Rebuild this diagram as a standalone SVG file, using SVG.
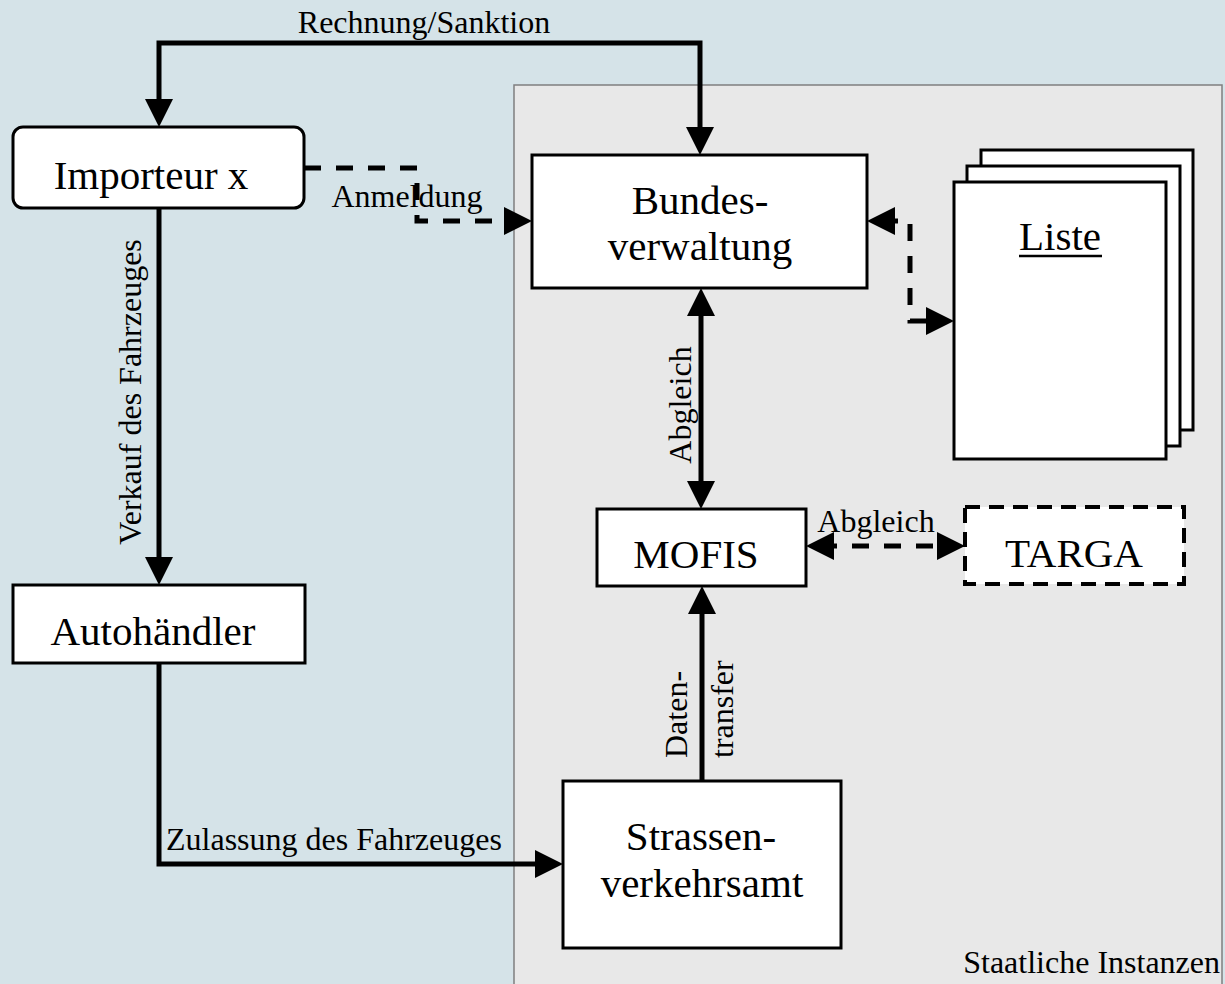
<svg xmlns="http://www.w3.org/2000/svg" width="1225" height="984" viewBox="0 0 1225 984">
<style>
.box{fill:#ffffff;stroke:#000000;stroke-width:3}
.big{font-family:"Liberation Serif","Times New Roman",serif;font-size:41px;fill:#000000;text-anchor:middle}
.lbl{font-family:"Liberation Serif","Times New Roman",serif;font-size:32px;fill:#000000}
.con{fill:none;stroke:#000000;stroke-width:5}
.dash{stroke-dasharray:17 15}
</style>
<defs>
<marker id="arr" viewBox="0 0 28 28" refX="14" refY="14" markerWidth="28" markerHeight="28" markerUnits="userSpaceOnUse" orient="auto-start-reverse">
<path d="M0,0 L28,14 L0,28 Z" fill="#000000"/>
</marker>
</defs>
<rect x="0" y="0" width="1225" height="984" fill="#d5e3e8"/>
<g id="staatliche-instanzen">
<rect x="514" y="85" width="708" height="910" fill="#e8e8e8" stroke="#7f7f7f" stroke-width="1.5"/>
<text class="lbl" x="1220" y="973" text-anchor="end">Staatliche Instanzen</text>
</g>
<g id="connectors">
<path class="con" d="M700 141 V43 H159 V113" marker-start="url(#arr)" marker-end="url(#arr)"/>
<path class="con dash" d="M304 168 H417 V221 H518" marker-end="url(#arr)"/>
<path class="con" d="M159 208 V571" marker-end="url(#arr)"/>
<path class="con" d="M159 663 V864 H549" marker-end="url(#arr)"/>
<path class="con" d="M701 302 V495" marker-start="url(#arr)" marker-end="url(#arr)"/>
<path class="con" d="M702 781 V600" marker-end="url(#arr)"/>
<path class="con dash" d="M820 546 H951" marker-start="url(#arr)" marker-end="url(#arr)"/>
<path class="con dash" d="M881 221 H910 V321 H940" marker-start="url(#arr)" marker-end="url(#arr)"/>
<text class="lbl" x="424" y="33" text-anchor="middle">Rechnung/Sanktion</text>
<text class="lbl" x="407" y="207" text-anchor="middle">Anmeldung</text>
<text class="lbl" x="141" y="392" text-anchor="middle" transform="rotate(-90 141 392)">Verkauf des Fahrzeuges</text>
<text class="lbl" x="166" y="850">Zulassung des Fahrzeuges</text>
<text class="lbl" x="691" y="405" text-anchor="middle" transform="rotate(-90 691 405)">Abgleich</text>
<text class="lbl" x="876" y="532" text-anchor="middle">Abgleich</text>
<text class="lbl" x="687" y="758" transform="rotate(-90 687 758)">Daten-</text>
<text class="lbl" x="733" y="758" transform="rotate(-90 733 758)">transfer</text>
</g>
<g id="importeur">
<rect class="box" x="13" y="127" width="291" height="81" rx="10" ry="10"/>
<text class="big" x="151" y="189">Importeur x</text>
</g>
<g id="autohaendler">
<rect class="box" x="13" y="585" width="292" height="78"/>
<text class="big" x="153" y="645">Autohändler</text>
</g>
<g id="bundesverwaltung">
<rect class="box" x="532" y="155" width="335" height="133"/>
<text class="big" x="700" y="214">Bundes-</text>
<text class="big" x="700" y="260">verwaltung</text>
</g>
<g id="liste">
<rect class="box" x="981" y="150" width="212" height="280"/>
<rect class="box" x="967" y="166" width="213" height="280"/>
<rect class="box" x="954" y="182" width="212" height="277"/>
<text class="big" x="1060" y="250">Liste</text>
<line x1="1019" y1="256" x2="1102" y2="256" stroke="#000000" stroke-width="2.5"/>
</g>
<g id="mofis">
<rect class="box" x="597" y="509" width="209" height="77"/>
<text class="big" x="696" y="568">MOFIS</text>
</g>
<g id="targa">
<rect x="965" y="507" width="219" height="77" fill="#ffffff" stroke="#000000" stroke-width="4" stroke-dasharray="15 9"/>
<text class="big" x="1074" y="567">TARGA</text>
</g>
<g id="strassenverkehrsamt">
<rect class="box" x="563" y="781" width="278" height="167"/>
<text class="big" x="701" y="850">Strassen-</text>
<text class="big" x="702" y="897">verkehrsamt</text>
</g>
</svg>
